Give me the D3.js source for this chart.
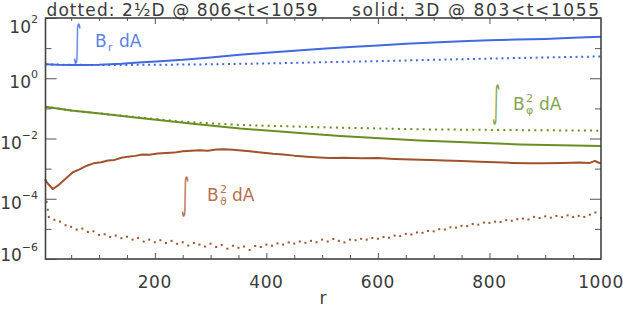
<!DOCTYPE html>
<html><head><meta charset="utf-8">
<script src="https://cdn.jsdelivr.net/npm/d3@7"></script>
<style>
body{margin:0;background:#fff}
svg{display:block}
text{font-family:"DejaVu Sans",sans-serif}
</style>
</head><body>
<svg id="c" width="623" height="313"></svg>
<script>
// ---- data ----
const xTickLabels = [200, 400, 600, 800, 1000];
const yLabelExps = [2, 0, -2, -4, -6];
const yMinorExps = [1, -1, -3, -5];

const brSolidR = [4,25,50,75,100,140,170,210,250,300,352,400,450,500,550,600,650,700,750,800,850,900,950,1000];
const brSolidV = [2.9,2.8,2.75,2.75,2.8,3.05,3.35,3.7,4.1,4.9,6.0,7.0,8.2,9.5,10.8,12.3,14.0,15.5,17.0,18.2,19.2,20.2,22.0,24.0];

const brDotR = [4,50,100,200,300,400,500,600,700,800,900,1000];
const brDotV = [2.9,2.8,2.75,2.8,2.9,3.1,3.4,3.7,4.1,4.5,4.9,5.3];

const bphiSolidR = [4,50,102,173,281,353,460,532,675,855,1000];
const bphiSolidV = [0.114,0.085,0.0676,0.0479,0.0292,0.0215,0.0152,0.0121,0.00859,0.00633,0.00564];

const bphiDotR = [4,50,102,173,250,353,514,675,850,1000];
const bphiDotV = [0.114,0.085,0.0676,0.05,0.036,0.0281,0.0232,0.0202,0.019,0.0182];

const bthSolidR = [4,8,17,28,40,53,65,78,90,104,116,128,140,152,165,178,190,205,220,235,250,265,280,295,310,325,340,355,370,390,412,430,450,473,495,514,540,570,600,630,660,693,720,750,783,810,840,873,900,930,962,980,989,995,1000];
const bthSolidV = [4.2e-4,3.2e-4,2.1e-4,2.9e-4,4.6e-4,7.6e-4,9.5e-4,1.25e-3,1.5e-3,1.62e-3,1.85e-3,1.95e-3,2.3e-3,2.5e-3,2.65e-3,2.95e-3,2.9e-3,3.15e-3,3.3e-3,3.4e-3,3.75e-3,3.9e-3,4.1e-3,3.95e-3,4.3e-3,4.4e-3,4.25e-3,4.0e-3,3.75e-3,3.4e-3,3.1e-3,2.95e-3,2.7e-3,2.5e-3,2.35e-3,2.25e-3,2.3e-3,2.2e-3,2.25e-3,2.1e-3,2.0e-3,1.95e-3,1.85e-3,1.78e-3,1.7e-3,1.62e-3,1.55e-3,1.5e-3,1.52e-3,1.55e-3,1.6e-3,1.55e-3,1.8e-3,1.6e-3,1.5e-3];

const bthDotR = [4,6,8,10,20,30,40,50,60,70,80,90,100,110,120,130,140,150,160,170,180,190,200,210,220,230,240,250,260,270,280,290,300,310,320,330,340,350,360,370,380,390,400,410,420,430,440,450,460,470,480,490,500,510,520,530,540,550,560,570,580,590,600,610,620,630,640,650,660,670,680,690,700,710,720,730,740,750,760,770,780,790,800,810,820,830,840,850,860,870,880,890,900,910,920,930,940,950,960,970,980,990,1000];
const bthDotV = [4.2e-4,7.9e-5,4.3e-5,2.5e-5,2.0e-5,1.74e-5,1.32e-5,1.17e-5,9.5e-6,1.02e-5,7.9e-6,8.3e-6,6.3e-6,6.6e-6,5.4e-6,6.0e-6,4.9e-6,5.5e-6,4.4e-6,5.0e-6,3.8e-6,4.4e-6,3.6e-6,4.2e-6,3.4e-6,4.0e-6,3.2e-6,3.6e-6,2.8e-6,3.4e-6,3.0e-6,2.6e-6,3.2e-6,2.5e-6,2.9e-6,2.2e-6,2.75e-6,2.35e-6,2.6e-6,2.0e-6,2.7e-6,2.5e-6,3.0e-6,2.75e-6,3.3e-6,3.0e-6,3.55e-6,3.25e-6,3.8e-6,3.45e-6,4.0e-6,3.6e-6,4.4e-6,3.8e-6,4.6e-6,4.0e-6,3.55e-6,4.4e-6,4.2e-6,4.7e-6,4.4e-6,5.0e-6,4.7e-6,5.4e-6,5.1e-6,6.0e-6,5.75e-6,6.8e-6,6.5e-6,7.6e-6,7.4e-6,8.5e-6,8.3e-6,9.8e-6,9.5e-6,1.12e-5,1.10e-5,1.26e-5,1.23e-5,1.45e-5,1.38e-5,1.62e-5,1.58e-5,1.74e-5,1.70e-5,1.95e-5,1.86e-5,2.1e-5,2.2e-5,2.05e-5,2.5e-5,2.3e-5,2.6e-5,2.35e-5,2.7e-5,2.45e-5,2.8e-5,2.5e-5,2.7e-5,2.5e-5,2.95e-5,3.5e-5,2.3e-5];

// ---- chart ----
const C = {blue:"#4169e1", green:"#6b8e23", brown:"#a0522d"};
const svg = d3.select("#c");
const L = 45.5, R = 601, T = 18, B = 259;
const x = d3.scaleLinear().domain([4, 1000]).range([L, R]);
const y = d3.scaleLog().domain([1e-6, 1e2]).range([B, T]);
const zip = (rs, vs) => rs.map((r, i) => ({r, v: vs[i]}));
const line = d3.line().x(d => x(d.r)).y(d => y(d.v));

const g = svg.append("g");
function path(data, color, dash) {
  const p = g.append("path").datum(data).attr("d", line)
    .attr("fill", "none").attr("stroke", color).attr("stroke-width", 2)
    .attr("stroke-linejoin", "round");
  if (dash) p.attr("stroke-dasharray", dash).attr("stroke-linecap", "butt");
}
path(zip(bphiDotR, bphiDotV), C.green, "2,4.2");
path(zip(brDotR, brDotV), C.blue, "2,3.7");
path(zip(bphiSolidR, bphiSolidV), C.green);
path(zip(bthSolidR, bthSolidV), C.brown);
path(zip(brSolidR, brSolidV), C.blue);
g.selectAll("rect.bd").data(zip(bthDotR, bthDotV)).enter().append("rect")
  .attr("class", "bd").attr("x", d => x(d.r) - 1).attr("y", d => y(d.v) - 1)
  .attr("width", 2).attr("height", 2).attr("fill", C.brown);

// axes ticks
const tickCol = "#555";
function ax(axis, tr) {
  const a = svg.append("g").attr("transform", tr).call(axis);
  a.select(".domain").remove();
  a.selectAll("line").attr("stroke", tickCol).attr("stroke-width", 1);
  a.selectAll("text").remove();
  return a;
}
const yMaj = yLabelExps.map(e => Math.pow(10, e));
const yMin = yMinorExps.map(e => Math.pow(10, e));
ax(d3.axisLeft(y).tickValues(yMaj).tickSize(-11), `translate(${L},0)`);
ax(d3.axisLeft(y).tickValues(yMin).tickSize(-6), `translate(${L},0)`);
ax(d3.axisRight(y).tickValues(yMaj).tickSize(-11), `translate(${R},0)`);
ax(d3.axisRight(y).tickValues(yMin).tickSize(-6), `translate(${R},0)`);
const xMaj = xTickLabels.slice(0, -1);
const xMin = d3.range(50, 1000, 50).filter(v => v % 200 !== 0);
ax(d3.axisBottom(x).tickValues(xMaj).tickSize(-6), `translate(0,${B})`);
ax(d3.axisBottom(x).tickValues(xMin).tickSize(-4), `translate(0,${B})`);
ax(d3.axisTop(x).tickValues(xMaj).tickSize(-6), `translate(0,${T})`);
ax(d3.axisTop(x).tickValues(xMin).tickSize(-3), `translate(0,${T})`);

svg.append("rect").attr("x", L).attr("y", T).attr("width", R - L).attr("height", B - T)
  .attr("fill", "none").attr("stroke", "#444").attr("stroke-width", 1.6);

// tick labels
const lab = svg.append("g").attr("fill", "#3a3a3a");
xTickLabels.forEach(v => {
  lab.append("text").attr("x", x(v)).attr("y", 288).attr("text-anchor", "middle")
    .attr("font-size", 17).attr("letter-spacing", 0.6).text(v);
});
yLabelExps.forEach(e => {
  const yy = Math.min(Math.max(y(Math.pow(10, e)) + 10, 33), 261);
  const t = lab.append("text").attr("x", 38).attr("y", yy).attr("text-anchor", "end").attr("font-size", 17);
  t.append("tspan").text("10");
  t.append("tspan").attr("dy", -10).attr("font-size", 11).text(String(e).replace("-", "\u2212"));
});
lab.append("text").attr("x", 323).attr("y", 304).attr("text-anchor", "middle").attr("font-size", 17).text("r");

// title
lab.append("text").attr("x", 46.5).attr("y", 15.5).attr("font-size", 17)
  .attr("textLength", 271).attr("lengthAdjust", "spacing").text("dotted: 2\u00bdD @ 806<t<1059");
lab.append("text").attr("x", 352).attr("y", 15.5).attr("font-size", 17)
  .attr("textLength", 247).attr("lengthAdjust", "spacing").text("solid: 3D @ 803<t<1055");

// annotations
function ann(ix, iy, col, bx, by, sub, sup, dax) {
  const a = svg.append("g").attr("fill", col);
  a.append("text").attr("transform", `translate(${ix},${iy}) scale(0.4,1.05)`)
    .attr("font-size", 40).text("\u222b");
  a.append("text").attr("x", bx).attr("y", by).attr("font-size", 17).text("B");
  if (sup) a.append("text").attr("x", bx + 13).attr("y", by - 8).attr("font-size", 11).text(sup);
  if (sub) a.append("text").attr("x", bx + 13).attr("y", by + 4).attr("font-size", 11).text(sub);
  a.append("text").attr("x", dax).attr("y", by).attr("font-size", 17).text("dA");
}
ann(73, 55, "#5b82e6", 95, 47, "r", null, 119);
ann(492, 116, "#86a550", 513, 110, "\u03c6", "2", 539);
ann(181, 208, "#b5704f", 207, 201, "\u03d1", "2", 232);
</script>
</body></html>
